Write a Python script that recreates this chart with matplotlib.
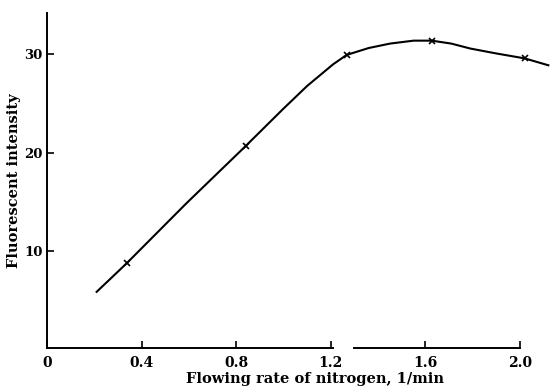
import matplotlib.pyplot as plt

# measured points (marked with crosses)
flow = [0.337, 0.84, 1.267, 1.627, 2.02]
intensity = [8.8, 20.7, 29.95, 31.35, 29.6]

# hand-drawn curve
curve_x = [0.21, 0.337, 0.59, 0.84, 1.0, 1.1, 1.16, 1.21, 1.267, 1.36, 1.45,
           1.55, 1.627, 1.71, 1.79, 1.9, 2.02, 2.12]
curve_y = [5.9, 8.8, 14.9, 20.7, 24.5, 26.8, 28.0, 29.0, 29.95, 30.65, 31.1,
           31.4, 31.4, 31.1, 30.6, 30.1, 29.6, 28.9]

xticks = [0, 0.4, 0.8, 1.2, 1.6, 2.0]
xticklabels = ["0", "0.4", "0.8", "1.2", "1.6", "2.0"]
yticks = [10, 20, 30]

plt.rcParams['font.family'] = 'DejaVu Serif'
plt.rcParams['font.weight'] = 'bold'

fig = plt.figure(figsize=(5.56, 3.89), dpi=100)
ax = fig.add_axes([0.0845, 0.1054, 0.9145, 0.861])

ax.plot(curve_x, curve_y, color='black', lw=1.5)
ax.plot(flow, intensity, ls='none', marker='x', ms=5, mew=1.2, color='black')

ax.set_xlim(0, 2.15)
ax.set_ylim(0.2, 34.2)
ax.spines['top'].set_visible(False)
ax.spines['right'].set_visible(False)
ax.spines['bottom'].set_visible(False)
ax.spines['left'].set_linewidth(1.4)

# bottom axis is drawn in two pieces, as in the original
xt = ax.get_xaxis_transform()
ax.plot([0, 1.21], [0, 0], transform=xt, color='black', lw=1.4, clip_on=False)
ax.plot([1.30, 2.0], [0, 0], transform=xt, color='black', lw=1.4, clip_on=False)

ax.set_xticks(xticks)
ax.set_xticklabels(xticklabels)
ax.set_yticks(yticks)
ax.tick_params(direction='in', length=5, width=1.2, labelsize=10, pad=6)
ax.tick_params(axis='y', labelsize=9.5, pad=3)

ax.set_xlabel("Flowing rate of nitrogen, 1/min", fontsize=10.5, fontweight='bold')
ax.xaxis.set_label_coords(0.527, -0.073)
ax.set_ylabel("Fluorescent intensity", fontsize=10.5, fontweight='bold')
ax.yaxis.set_label_coords(-0.052, 0.5)

fig.savefig("out.png", dpi=100)
